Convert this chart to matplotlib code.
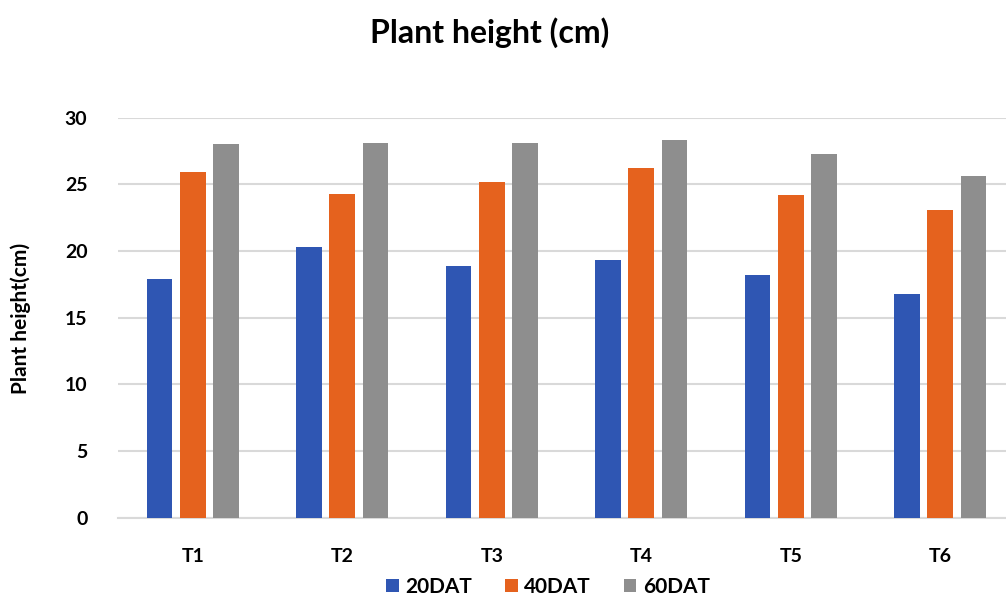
import matplotlib
matplotlib.use("Agg")
import matplotlib.pyplot as plt
import numpy as np

categories = ["T1", "T2", "T3", "T4", "T5", "T6"]
series_names = ["20DAT", "40DAT", "60DAT"]
dat20 = [17.9, 20.3, 18.9, 19.3, 18.2, 16.8]
dat40 = [25.9, 24.3, 25.2, 26.2, 24.2, 23.1]
dat60 = [28.0, 28.1, 28.1, 28.3, 27.3, 25.6]
yticks = [0, 5, 10, 15, 20, 25, 30]
colors = ["#2F56B3", "#E5621E", "#8E8E8E"]

plt.rcParams['font.family'] = ['Lato', 'DejaVu Sans']

fig = plt.figure(figsize=(10.06, 5.97), dpi=100)
left = 118 / 1006
width = (1015 - 118) / 1006
bottom = 1 - 517.7 / 597
height = (517.7 - 117.7) / 597
ax = fig.add_axes([left, bottom, width, height])

x = np.arange(len(categories))
pitch = 0.223
bw = 0.172
for i, (vals, name, c) in enumerate(zip([dat20, dat40, dat60], series_names, colors)):
    ax.bar(x + (i - 1) * pitch, vals, width=bw, color=c, label=name, zorder=3)

ax.set_xlim(-0.5, len(categories) - 0.5)
ax.set_ylim(0, 30)
ax.set_yticks(yticks)
ax.set_yticklabels([str(t) for t in yticks], fontsize=14, fontweight='bold')
ax.set_xticks(x)
ax.set_xticklabels(categories, fontsize=14, fontweight='bold')
ax.tick_params(axis='both', length=0)
ax.tick_params(axis='y', pad=22)
ax.tick_params(axis='x', pad=22)
ax.grid(axis='y', color='#D9D9D9', linewidth=1.5, zorder=0)
for s in ['top', 'right', 'left']:
    ax.spines[s].set_visible(False)
ax.spines['bottom'].set_color('#D9D9D9')
ax.spines['bottom'].set_linewidth(1.5)

fig.text(490 / 1006, 1 - 33 / 597, "Plant height (cm)", ha='center', va='center',
         fontsize=23, fontweight='bold')
fig.text(21 / 1006, 1 - 318 / 597, "Plant height(cm)", ha='center', va='center',
         rotation=90, fontsize=15, fontweight='bold')

leg = fig.legend(loc='center', bbox_to_anchor=(548 / 1006, 1 - 587 / 597), ncol=3,
                 frameon=False, prop={'size': 15, 'weight': 'bold'},
                 handlelength=0.6, handleheight=0.6, handletextpad=0.3, columnspacing=1.6)

fig.savefig("out.png", dpi=100)
